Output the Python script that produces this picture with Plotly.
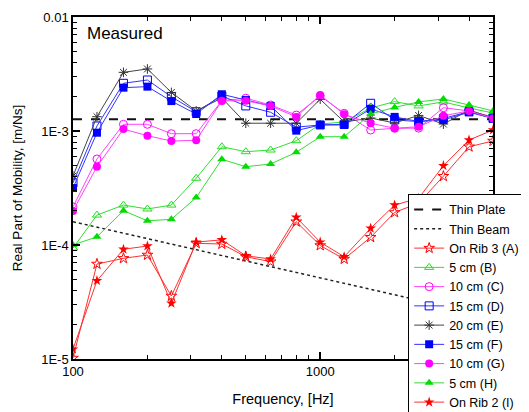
import plotly.graph_objects as go

freq = [100, 125, 160, 200, 250, 315, 400, 500, 630, 800, 1000, 1250, 1600, 2000, 2500, 3150, 4000, 5000]

thin_plate_f = [100, 5000]
thin_plate_v = [1.27e-3, 1.27e-3]
thin_beam_f = [100, 5000]
thin_beam_v = [1.6e-4, 2.33e-5]

rib3_A = [1.02e-5, 6.81e-5, 7.64e-5, 8.17e-5, 3.57e-5, 1.035e-4, 1.02e-4, 7.89e-5, 7.14e-5, 1.60e-4,
          9.9e-5, 7.53e-5, 1.17e-4, 1.93e-4, 2.33e-4, 4.01e-4, 7.28e-4, 8.17e-4]
cm5_B = [9.4e-5, 1.83e-4, 2.24e-4, 2.07e-4, 2.24e-4, 3.85e-4, 7.28e-4, 6.58e-4, 6.81e-4, 8.22e-4,
         1.15e-3, 1.20e-3, 1.59e-3, 1.81e-3, 1.66e-3, 1.80e-3, 1.59e-3, 1.44e-3]
cm10_C = [2.16e-4, 5.68e-4, 1.145e-3, 1.145e-3, 9.47e-4, 9.47e-4, 1.845e-3, 1.94e-3, 1.69e-3, 1.38e-3,
          2.03e-3, 1.43e-3, 1.02e-3, 1.056e-3, 1.06e-3, 1.60e-3, 1.50e-3, 1.33e-3]
cm15_D = [3.50e-4, 1.107e-3, 2.62e-3, 2.80e-3, 2.00e-3, 1.476e-3, 2.03e-3, 1.66e-3, 1.46e-3, 1.08e-3,
          1.13e-3, 1.145e-3, 1.75e-3, 1.25e-3, 1.21e-3, 1.29e-3, 1.476e-3, 1.29e-3]
cm20_E = [4.03e-4, 1.334e-3, 3.27e-3, 3.50e-3, 2.18e-3, 1.50e-3, 1.95e-3, 1.17e-3, 1.17e-3, 1.17e-3,
          1.90e-3, 1.20e-3, 1.30e-3, 1.175e-3, 1.37e-3, 1.15e-3, 1.53e-3, 1.30e-3]
cm15_F = [3.16e-4, 9.66e-4, 2.40e-3, 2.45e-3, 1.83e-3, 1.41e-3, 2.10e-3, 1.87e-3, 1.66e-3, 1.007e-3,
          1.13e-3, 1.13e-3, 1.56e-3, 1.33e-3, 1.21e-3, 1.25e-3, 1.46e-3, 1.29e-3]
cm10_G = [1.99e-4, 4.86e-4, 1.04e-3, 9.10e-4, 8.17e-4, 8.28e-4, 1.84e-3, 1.845e-3, 1.66e-3, 1.33e-3,
          2.07e-3, 1.40e-3, 1.17e-3, 1.056e-3, 1.09e-3, 1.36e-3, 1.50e-3, 1.29e-3]
cm5_H = [1.0e-4, 1.18e-4, 2.0e-4, 1.63e-4, 1.68e-4, 2.61e-4, 5.65e-4, 4.86e-4, 5.14e-4, 6.50e-4,
         8.91e-4, 8.91e-4, 1.41e-3, 1.61e-3, 1.80e-3, 1.91e-3, 1.69e-3, 1.50e-3]
rib2_I = [1.22e-5, 4.86e-5, 9.17e-5, 9.8e-5, 3.08e-5, 1.06e-4, 1.11e-4, 8.05e-5, 7.53e-5, 1.75e-4,
          1.06e-4, 7.89e-5, 1.40e-4, 2.24e-4, 2.57e-4, 4.96e-4, 8.34e-4, 1.02e-3]

series = [
    ("On Rib 3 (A)", rib3_A, "#FF3030", "star-open", "#FF0000"),
    ("5 cm (B)", cm5_B, "#33DD33", "triangle-up-open", "#22DD22"),
    ("10 cm (C)", cm10_C, "#FF40FF", "circle-open", "#FF00FF"),
    ("15 cm (D)", cm15_D, "#3333FF", "square-open", "#0000FF"),
    ("20 cm (E)", cm20_E, "#444444", "asterisk-open", "#333333"),
    ("15 cm (F)", cm15_F, "#3333FF", "square", "#0000FF"),
    ("10 cm (G)", cm10_G, "#FF40FF", "circle", "#FF00FF"),
    ("5 cm (H)", cm5_H, "#33DD33", "triangle-up", "#00DD00"),
    ("On Rib 2 (I)", rib2_I, "#FF3030", "star", "#FF0000"),
]

fig = go.Figure()
fig.add_trace(go.Scatter(x=thin_plate_f, y=thin_plate_v, mode="lines", name="Thin Plate",
                         line=dict(color="#111111", width=2, dash="dash")))
fig.add_trace(go.Scatter(x=thin_beam_f, y=thin_beam_v, mode="lines", name="Thin Beam",
                         line=dict(color="#222222", width=1.5, dash="dot")))
for name, vals, lc, sym, mc in series:
    if sym.endswith("open"):
        marker = dict(symbol=sym, size=8, color=mc, line=dict(color=mc, width=1))
    else:
        marker = dict(symbol=sym, size=8, color=mc, line=dict(color=mc, width=0))
    fig.add_trace(go.Scatter(x=freq, y=vals, mode="lines+markers", name=name,
                             line=dict(color=lc, width=1), marker=marker))

font_family = "Liberation Sans, Arial, sans-serif"
minor_x = [200, 300, 400, 500, 600, 700, 800, 900, 2000, 3000, 4000, 5000]
minor_y = [m * 10.0 ** e for e in (-5, -4, -3) for m in range(2, 10)]

# The page body adds an 8px offset; the figure is sized so the visible window matches.
fig.update_layout(
    width=560, height=440,
    margin=dict(l=65, r=75, t=9, b=89, autoexpand=False),
    paper_bgcolor="white", plot_bgcolor="white",
    font=dict(family=font_family, size=13, color="black"),
    showlegend=True,
    legend=dict(x=0.798, y=0.4825, xanchor="left", yanchor="top",
                bgcolor="white", bordercolor="black", borderwidth=1,
                font=dict(size=12.5, family=font_family), tracegroupgap=0,
                itemwidth=30),
    xaxis=dict(type="log", range=[2, 3.69897], showgrid=False, zeroline=False, automargin=False,
               showline=True, linecolor="black", linewidth=1.5, mirror="ticks",
               ticks="inside", ticklen=7, tickwidth=1.5, tickcolor="black",
               tickmode="array", tickvals=[100, 1000], ticktext=["100", "1000"],
               minor=dict(ticks="inside", ticklen=4, tickwidth=1, tickcolor="black",
                          tickmode="array", tickvals=minor_x, showgrid=False),
               title=dict(text="Frequency, [Hz]", font=dict(size=14.5), standoff=16)),
    yaxis=dict(type="log", range=[-5, -2], showgrid=False, zeroline=False, automargin=False,
               showline=True, linecolor="black", linewidth=1.5, mirror="ticks",
               ticks="inside", ticklen=7, tickwidth=1.5, tickcolor="black",
               tickmode="array", tickvals=[1e-5, 1e-4, 1e-3, 1e-2],
               ticktext=["1E-5", "1E-4", "1E-3", "0.01"],
               minor=dict(ticks="inside", ticklen=4, tickwidth=1, tickcolor="black",
                          tickmode="array", tickvals=minor_y, showgrid=False),
               title=dict(text="Real Part of Mobility, [m/Ns]", font=dict(size=13.5), standoff=15)),
    annotations=[dict(text="Measured", x=0.028, y=0.985, xref="paper", yref="paper",
                      xanchor="left", yanchor="top", showarrow=False,
                      font=dict(size=17, family=font_family))],
)

fig.write_html("out.html")
